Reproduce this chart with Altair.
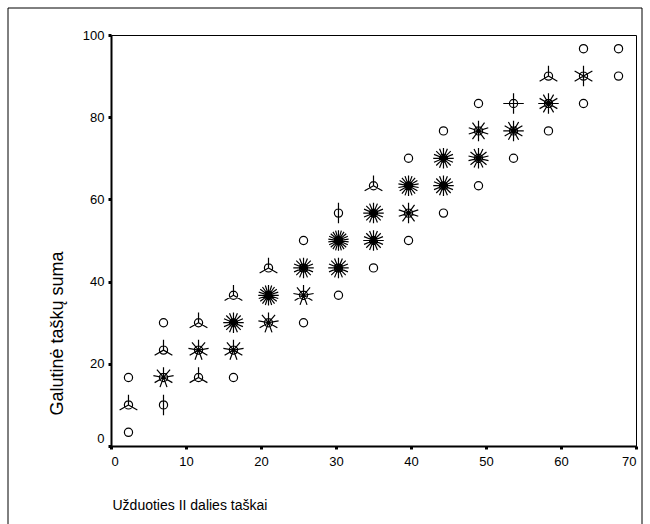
import math
import altair as alt
import pandas as pd

# Sunflower plot cells: x (Užduoties II dalies taškai), y (Galutinė taškų suma), number of cases
x_vals = [2.33, 2.33, 2.33,
          7.0, 7.0, 7.0, 7.0,
          11.67, 11.67, 11.67,
          16.33, 16.33, 16.33, 16.33,
          21.0, 21.0, 21.0,
          25.67, 25.67, 25.67, 25.67,
          30.33, 30.33, 30.33, 30.33,
          35.0, 35.0, 35.0, 35.0,
          39.67, 39.67, 39.67, 39.67,
          44.33, 44.33, 44.33, 44.33,
          49.0, 49.0, 49.0, 49.0,
          53.67, 53.67, 53.67,
          58.33, 58.33, 58.33,
          63.0, 63.0, 63.0,
          67.67, 67.67]
y_vals = [3.33, 10.0, 16.67,
          10.0, 16.67, 23.33, 30.0,
          16.67, 23.33, 30.0,
          16.67, 23.33, 30.0, 36.67,
          30.0, 36.67, 43.33,
          30.0, 36.67, 43.33, 50.0,
          36.67, 43.33, 50.0, 56.67,
          43.33, 50.0, 56.67, 63.33,
          50.0, 56.67, 63.33, 70.0,
          56.67, 63.33, 70.0, 76.67,
          63.33, 70.0, 76.67, 83.33,
          70.0, 76.67, 83.33,
          76.67, 83.33, 90.0,
          83.33, 90.0, 96.67,
          90.0, 96.67]
counts = [1, 3, 1,
          2, 9, 3, 1,
          3, 9, 3,
          1, 9, 16, 3,
          9, 20, 3,
          1, 9, 16, 1,
          1, 16, 22, 2,
          1, 16, 16, 3,
          1, 10, 18, 1,
          1, 16, 16, 1,
          1, 14, 10, 1,
          1, 12, 4,
          1, 12, 3,
          1, 6, 1,
          1, 1]

x_ticks = [0, 10, 20, 30, 40, 50, 60, 70]
y_ticks = [0, 20, 40, 60, 80, 100]


def sunflower_path(n):
    r = 0.4
    p = f"M{r},0A{r},{r},0,1,1,{-r},0A{r},{r},0,1,1,{r},0Z"
    if n > 1:
        for i in range(n):
            a = 2 * math.pi * i / n
            p += f"M0,0L{math.sin(a):.3f},{-math.cos(a):.3f}"
    return p


df = pd.DataFrame({"x": x_vals, "y": y_vals, "n": counts})
domain = sorted(set(counts))
shapes = [sunflower_path(n) for n in domain]

FONT = "Liberation Sans"

points = alt.Chart(df).mark_point(
    filled=False, stroke="black", strokeWidth=1.2, size=420, opacity=1
).encode(
    x=alt.X("x:Q", scale=alt.Scale(domain=[0, 70], nice=False),
            axis=alt.Axis(values=x_ticks, title="Užduoties II dalies taškai",
                          titleAnchor="start", titleAlign="left", titleX=1, titleY=59,
                          titleBaseline="middle", titleFontSize=14, labelPadding=6)),
    y=alt.Y("y:Q", scale=alt.Scale(domain=[0, 100], nice=False),
            axis=alt.Axis(values=y_ticks, title="Galutinė taškų suma",
                          titleAngle=-90, titleX=-54, titleY=298, titleAlign="center",
                          titleBaseline="middle", titleFontSize=18, labelPadding=4,
                          labelOffset={"condition": {"test": "datum.value === 0", "value": -8}, "value": 0})),
    shape=alt.Shape("n:O", scale=alt.Scale(domain=domain, range=shapes), legend=None),
)

border = alt.Chart(pd.DataFrame({"a": [0]})).mark_rect(
    fillOpacity=0, stroke="black", strokeWidth=1, clip=False
).encode(
    x=alt.value(-103), x2=alt.value(531), y=alt.value(-27), y2=alt.value(520)
)

chart = alt.layer(border, points).properties(
    width=525, height=411,
    padding={"left": 111, "top": 35, "right": 14, "bottom": 78},
    autosize=alt.AutoSizeParams(type="none"),
    background="white",
).configure_view(
    stroke="black", strokeWidth=1
).configure_axis(
    grid=False, domainColor="black", domainWidth=2, tickColor="black",
    tickSize=3, tickWidth=3, labelFont=FONT, labelFontSize=13, labelColor="black",
    titleFont=FONT, titleFontWeight="normal", titleColor="black",
)

chart.save("out.html", embed_options={"renderer": "svg", "actions": False})
